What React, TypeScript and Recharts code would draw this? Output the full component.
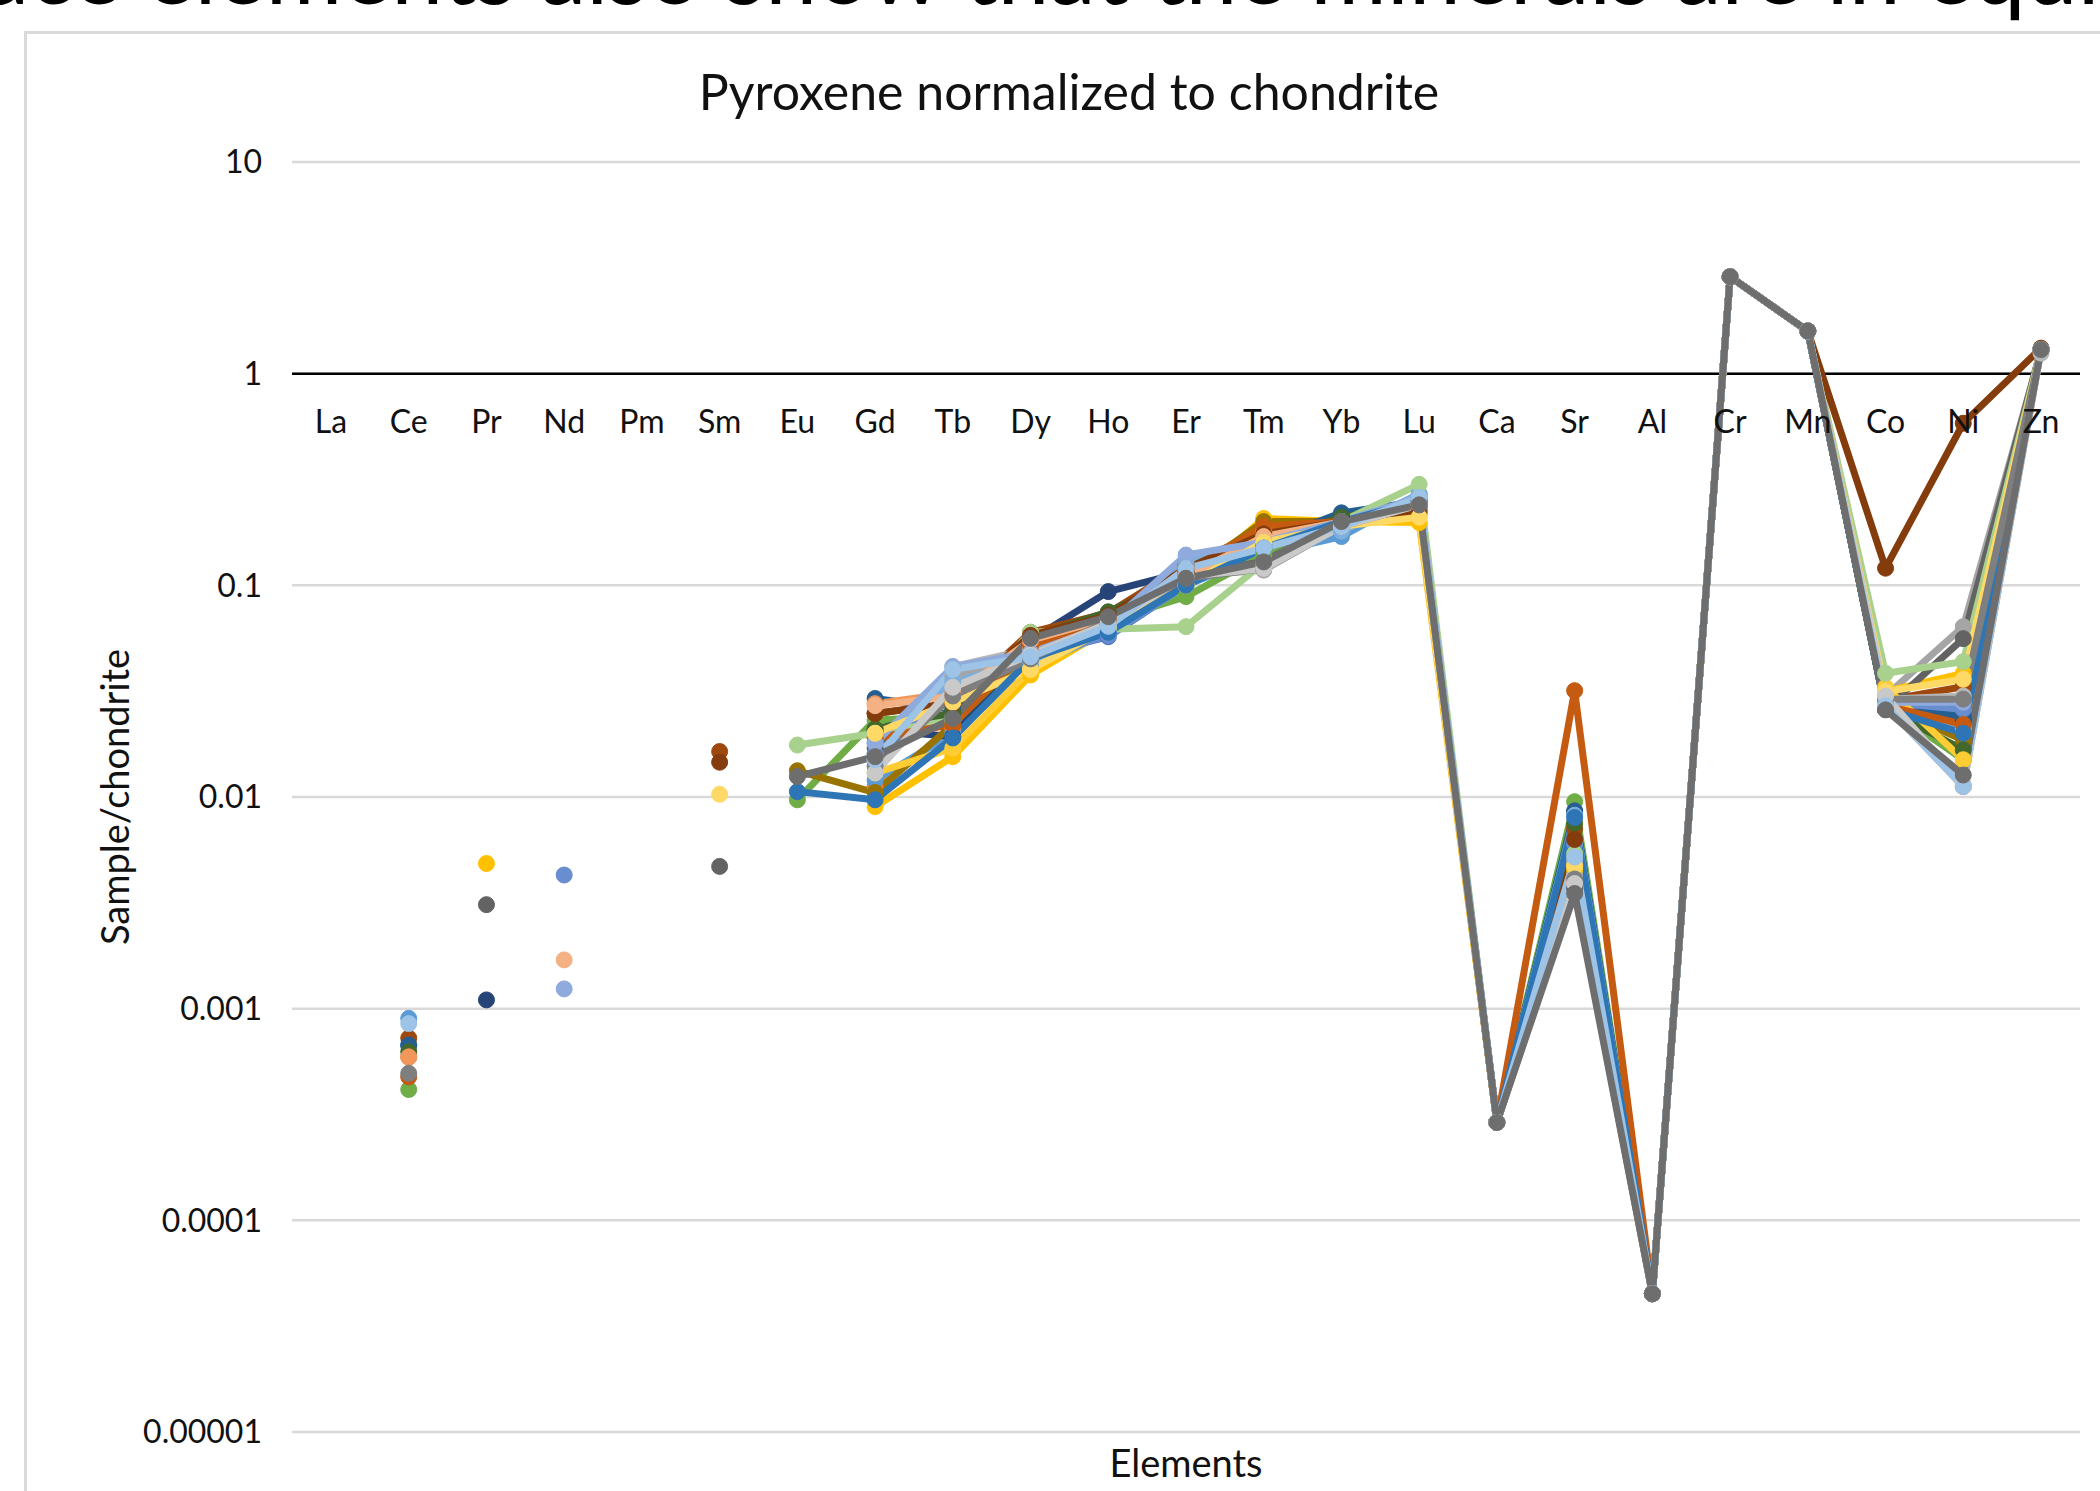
import { LineChart, Line, XAxis, YAxis, CartesianGrid, ReferenceLine } from 'recharts'

const elements = ['La', 'Ce', 'Pr', 'Nd', 'Pm', 'Sm', 'Eu', 'Gd', 'Tb', 'Dy', 'Ho', 'Er', 'Tm', 'Yb', 'Lu', 'Ca', 'Sr', 'Al', 'Cr', 'Mn', 'Co', 'Ni', 'Zn']
const yTicks = [0.00001, 0.0001, 0.001, 0.01, 0.1, 1, 10]

const _ = null
// one array per analysed grain, values in element order above
const s01 = [_, 0.00067, _, _, _, _, _, 0.0201, 0.024, 0.046, 0.0572, 0.1, 0.15, 0.19, 0.25, 0.00029, 0.0063, 0.000045, 2.87, 1.59, 0.027, 0.025, 1.3]
const s02 = [_, 0.00059, _, _, _, _, _, 0.0112, 0.021, 0.0477, 0.068, 0.118, 0.19, 0.2, 0.24, 0.00029, 0.0047, 0.000045, 2.87, 1.59, 0.028, 0.0215, 1.3]
const s03 = [_, _, _, _, _, _, _, 0.016, 0.037, 0.047, 0.07, 0.11, 0.118, 0.19, 0.25, 0.00029, 0.0039, 0.000045, 2.87, 1.59, 0.03, 0.0638, 1.28]
const s04 = [_, _, 0.00485, _, _, _, _, 0.009, 0.0155, 0.0377, 0.062, 0.1, 0.207, 0.2, 0.198, 0.00029, 0.0045, 0.000045, 2.87, 1.59, 0.0315, 0.0384, 1.3]
const s05 = [_, 0.0009, _, _, _, _, _, 0.012, 0.02, 0.0413, 0.06, 0.1, 0.14, 0.17, 0.27, 0.00029, 0.0084, 0.000045, 2.87, 1.59, 0.026, 0.02, 1.3]
const s06 = [_, 0.000415, _, _, _, _, 0.0097, 0.0231, 0.024, 0.059, 0.068, 0.0885, 0.14, 0.21, 0.24, 0.00029, 0.0095, 0.000045, 2.87, 1.59, 0.027, 0.015, 1.3]
const s07 = [_, _, 0.0011, _, _, _, _, 0.0207, 0.0193, 0.055, 0.0934, 0.116, 0.155, 0.215, 0.24, 0.00029, 0.0085, 0.000045, 2.87, 1.59, 0.026, 0.023, 1.3]
const s08 = [_, 0.000726, _, _, _, 0.0164, _, 0.0248, 0.0277, 0.06, 0.074, 0.125, 0.179, 0.2, 0.23, 0.00029, 0.0071, 0.000045, 2.87, 1.59, 0.0287, 0.0332, 1.3]
const s09 = [_, _, 0.0031, _, _, 0.0047, _, 0.017, 0.025, 0.05, 0.07, 0.11, 0.13, 0.2, 0.25, 0.00029, 0.0037, 0.000045, 2.87, 1.59, 0.026, 0.056, 1.3]
const s10 = [_, _, _, _, _, _, 0.0133, 0.0105, 0.022, 0.05, 0.065, 0.11, 0.2, 0.2, 0.23, 0.00029, 0.005, 0.000045, 2.87, 1.59, 0.027, 0.0186, 1.3]
const s11 = [_, 0.000673, _, _, _, _, _, 0.0292, 0.026, 0.05, 0.065, 0.11, 0.16, 0.22, 0.25, 0.00029, 0.0086, 0.000045, 2.87, 1.59, 0.026, 0.024, 1.3]
const s12 = [_, 0.000625, _, _, _, _, _, 0.021, 0.025, 0.057, 0.075, 0.11, 0.16, 0.21, 0.24, 0.00029, 0.0075, 0.000045, 2.87, 1.59, 0.026, 0.0167, 1.3]
const s13 = [_, _, _, 0.00428, _, _, _, 0.016, 0.031, 0.045, 0.058, 0.1, 0.15, 0.19, 0.26, 0.00029, 0.006, 0.000045, 2.87, 1.59, 0.028, 0.026, 1.3]
const s14 = [_, 0.000592, _, _, _, _, _, 0.0276, 0.031, 0.052, 0.07, 0.12, 0.18, 0.2, 0.23, 0.00029, 0.004, 0.000045, 2.87, 1.59, 0.028, 0.0112, 1.3]
const s15 = [_, _, _, _, _, _, _, 0.015, 0.0413, 0.05, 0.07, 0.12, 0.12, 0.19, 0.25, 0.00029, 0.0042, 0.000045, 2.87, 1.59, 0.029, 0.03, 1.25]
const s16 = [_, _, _, _, _, _, _, 0.013, 0.017, 0.04, 0.064, 0.1, 0.17, 0.2, 0.21, 0.00029, 0.0048, 0.000045, 2.87, 1.59, 0.033, 0.015, 1.3]
const s17 = [_, _, _, _, _, _, _, 0.018, 0.035, 0.044, 0.062, 0.13, 0.16, 0.18, 0.27, 0.00029, 0.0082, 0.000045, 2.87, 1.59, 0.027, 0.021, 1.3]
const s18 = [_, _, _, _, _, _, 0.0176, 0.02, 0.023, 0.06, 0.062, 0.0638, 0.128, 0.2, 0.3, 0.00029, 0.0054, 0.000045, 2.87, 1.59, 0.0384, 0.0436, 1.3]
const s19 = [_, 0.000476, _, _, _, _, _, 0.019, 0.022, 0.052, 0.07, 0.115, 0.19, 0.2, 0.24, 0.00029, 0.0318, 0.000045, 2.87, 1.59, 0.027, 0.022, 1.3]
const s20 = [_, _, _, _, _, 0.0146, _, 0.0248, 0.0277, 0.058, 0.072, 0.12, 0.175, 0.2, 0.22, 0.00029, 0.0063, 0.000045, 2.87, 1.59, 0.1205, 0.583, 1.32]
const s21 = [_, _, _, 0.0017, _, _, _, 0.027, 0.03, 0.055, 0.07, 0.11, 0.17, 0.2, 0.25, 0.00029, 0.004, 0.000045, 2.87, 1.59, 0.027, 0.0112, 1.3]
const s22 = [_, _, _, 0.00124, _, _, _, 0.018, 0.0413, 0.048, 0.065, 0.139, 0.16, 0.2, 0.26, 0.00029, 0.005, 0.000045, 2.87, 1.59, 0.028, 0.028, 1.3]
const s23 = [_, _, _, _, _, 0.0103, _, 0.02, 0.028, 0.04, 0.063, 0.1, 0.16, 0.19, 0.21, 0.00029, 0.0047, 0.000045, 2.87, 1.59, 0.0315, 0.036, 1.3]
const s24 = [_, _, _, _, _, _, 0.0106, 0.0097, 0.019, 0.045, 0.06, 0.1, 0.15, 0.2, 0.25, 0.00029, 0.008, 0.000045, 2.87, 1.59, 0.026, 0.02, 1.3]
const s25 = [_, 0.000495, _, _, _, _, _, 0.014, 0.03, 0.045, 0.068, 0.108, 0.12, 0.19, 0.24, 0.00029, 0.0041, 0.000045, 2.87, 1.59, 0.029, 0.029, 1.3]
const s26 = [_, _, _, _, _, _, _, 0.013, 0.033, 0.047, 0.066, 0.11, 0.12, 0.19, 0.24, 0.00029, 0.0039, 0.000045, 2.87, 1.59, 0.03, 0.0115, 1.3]
const s27 = [_, 0.00085, _, _, _, _, _, 0.015, 0.04, 0.046, 0.064, 0.12, 0.15, 0.19, 0.26, 0.00029, 0.0052, 0.000045, 2.87, 1.59, 0.027, 0.0112, 1.3]
const s28 = [_, _, _, _, _, _, 0.0125, 0.0155, 0.0235, 0.0562, 0.0711, 0.108, 0.129, 0.2, 0.24, 0.00029, 0.0035, 0.000045, 2.87, 1.59, 0.0258, 0.0127, 1.3]

const series = [
  { key: 's01', color: '#4472C4', values: s01 },
  { key: 's02', color: '#ED7D31', values: s02 },
  { key: 's03', color: '#A5A5A5', values: s03 },
  { key: 's04', color: '#FFC000', values: s04 },
  { key: 's05', color: '#5B9BD5', values: s05 },
  { key: 's06', color: '#70AD47', values: s06 },
  { key: 's07', color: '#264478', values: s07 },
  { key: 's08', color: '#9E480E', values: s08 },
  { key: 's09', color: '#636363', values: s09 },
  { key: 's10', color: '#997300', values: s10 },
  { key: 's11', color: '#255E91', values: s11 },
  { key: 's12', color: '#43682B', values: s12 },
  { key: 's13', color: '#698ED0', values: s13 },
  { key: 's14', color: '#F1975A', values: s14 },
  { key: 's15', color: '#B7B7B7', values: s15 },
  { key: 's16', color: '#FFCD33', values: s16 },
  { key: 's17', color: '#7CAFDD', values: s17 },
  { key: 's18', color: '#A9D18E', values: s18 },
  { key: 's19', color: '#C55A11', values: s19 },
  { key: 's20', color: '#843C0C', values: s20 },
  { key: 's21', color: '#F4B183', values: s21 },
  { key: 's22', color: '#8FAADC', values: s22 },
  { key: 's23', color: '#FFD966', values: s23 },
  { key: 's24', color: '#2E75B6', values: s24 },
  { key: 's25', color: '#7F7F7F', values: s25 },
  { key: 's26', color: '#C9C9C9', values: s26 },
  { key: 's27', color: '#9DC3E6', values: s27 },
  { key: 's28', color: '#6E6E6E', values: s28 },
]

const rows = elements.map((el, i) => {
  const row: Record<string, string | number | null> = { el }
  series.forEach((s) => {
    row[s.key] = s.values[i]
  })
  return row
})

const W = 2100
const H = 1491
const TOP = 162
const BOTTOM_AXIS = 59
const PLOT_H = H - TOP - BOTTOM_AXIS
// the category axis crosses at 1, one decade below the top of the 6-decade log range
const ONE_Y = TOP + PLOT_H / 6
const FONT = 'Lato, "Open Sans", sans-serif'

function ElementTick({ x, payload }: { x?: number; payload?: { value: string } }) {
  return (
    <text x={x} y={ONE_Y + 59} textAnchor="middle" fill="#111" fontSize={32} fontFamily={FONT}>
      {payload?.value}
    </text>
  )
}

export default function App() {
  return (
    <div style={{ position: 'absolute', left: 0, top: 0, width: W, height: H, overflow: 'hidden', background: '#fff', fontFamily: FONT }}>
      {/* tail of the slide text above the chart */}
      <div style={{ position: 'absolute', left: -95, top: -78, fontSize: 93, lineHeight: '93px', whiteSpace: 'nowrap', color: '#000' }}>
        Trace elements also show that the minerals are in equilibrium
      </div>

      <div style={{ position: 'absolute', left: 24, top: 31, width: W, height: H, border: '3px solid #d9d9d9', background: '#fff' }} />

      <div style={{ position: 'absolute', left: 0, top: 61, width: 2138, textAlign: 'center', fontSize: 50, lineHeight: '60px', color: '#111' }}>
        Pyroxene normalized to chondrite
      </div>

      <div style={{ position: 'absolute', left: 0, top: 0 }}>
        <LineChart width={W} height={H} data={rows} margin={{ top: TOP, right: 20, bottom: 0, left: 92 }}>
          <CartesianGrid vertical={false} stroke="#d9d9d9" strokeWidth={2.5} />
          <XAxis
            dataKey="el"
            height={BOTTOM_AXIS}
            axisLine={false}
            tickLine={false}
            interval={0}
            padding={{ left: 39, right: 39 }}
            tick={(props: any) => <ElementTick {...props} />}
            label={{ value: 'Elements', position: 'insideBottom', offset: 14, fill: '#111', fontSize: 38, fontFamily: FONT }}
          />
          <YAxis
            type="number"
            scale="log"
            domain={[0.00001, 10]}
            ticks={yTicks}
            allowDataOverflow
            width={200}
            axisLine={false}
            tickLine={false}
            tickMargin={24}
            tickFormatter={(v: number) => String(v)}
            tick={{ fill: '#111', fontSize: 32, fontFamily: FONT }}
            label={{
              value: 'Sample/chondrite',
              angle: -90,
              position: 'insideLeft',
              offset: 24,
              fill: '#111',
              fontSize: 38,
              fontFamily: FONT,
              style: { textAnchor: 'middle' },
            }}
          />
          <ReferenceLine y={1} stroke="#000" strokeWidth={2.5} />
          {series.map((s) => (
            <Line
              key={s.key}
              type="linear"
              dataKey={s.key}
              stroke={s.color}
              strokeWidth={7}
              strokeLinejoin="round"
              dot={{ r: 8, fill: s.color, stroke: s.color, strokeWidth: 1 }}
              activeDot={false}
              isAnimationActive={false}
            />
          ))}
        </LineChart>
      </div>
    </div>
  )
}
